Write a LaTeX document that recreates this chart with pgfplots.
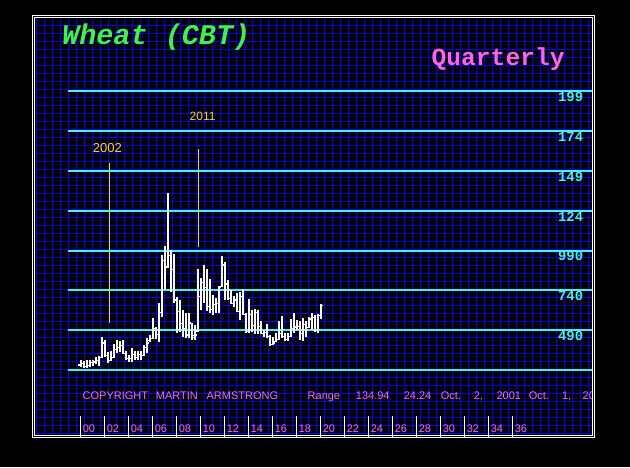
\documentclass[border=0pt]{standalone}
\usepackage{pgfplots}
\usepackage{pgfplotstable}
\pgfplotsset{compat=1.18}
\usepackage{fontspec}
\setmainfont{Liberation Sans}
\newfontfamily\monofont{Liberation Mono}
\definecolor{gridblue}{RGB}{0,0,225}
\definecolor{cyanline}{RGB}{72,240,240}
\definecolor{titlegreen}{RGB}{64,240,80}
\definecolor{pinktxt}{RGB}{240,110,230}
\definecolor{pinkq}{RGB}{255,100,230}
\definecolor{yel}{RGB}{250,220,0}

\pgfplotstableread{
i O H L C
0 272 300 258 280
1 280 295 255 262
2 262 300 252 270
3 270 302 262 285
4 285 305 268 290
5 290 322 278 300
6 300 328 266 318
7 318 445 318 410
8 410 430 324 330
9 330 352 286 300
10 300 360 298 320
11 320 403 315 370
12 370 428 345 380
13 380 425 350 395
14 395 428 340 345
15 345 360 303 310
16 310 334 292 310
17 310 376 292 335
18 335 362 300 320
19 320 360 305 335
20 335 360 305 330
21 330 397 325 380
22 380 439 345 410
23 425 460 418 440
24 440 565 433 500
25 500 512 437 465
26 465 659 418 600
27 600 963 575 930
28 930 1019 743 885
29 890 1352 880 960
30 960 994 732 870
31 870 969 659 680
32 680 700 470 610
33 610 680 480 530
34 530 617 449 500
35 500 596 438 460
36 460 600 440 540
37 530 533 428 445
38 455 525 428 460
39 485 873 481 700
40 700 817 617 790
41 790 901 659 760
42 760 873 612 640
43 640 810 596 620
44 620 712 586 650
45 650 691 596 660
46 660 768 596 760
47 765 957 760 900
48 900 921 680 780
49 780 806 680 690
50 690 743 659 660
51 660 705 638 680
52 680 726 607 610
53 610 733 554 700
54 700 747 586 590
55 590 596 474 480
56 480 687 474 590
57 590 617 481 520
58 520 625 466 600
59 600 620 466 515
60 515 547 466 470
61 470 491 445 475
62 475 529 438 450
63 450 460 397 400
64 400 445 395 410
65 420 470 415 430
66 430 547 428 470
67 470 582 449 450
68 450 470 420 430
69 430 470 420 450
70 450 561 445 500
71 500 596 472 510
72 510 554 491 515
73 515 547 428 470
74 470 565 424 525
75 525 545 450 495
76 505 571 501 560
77 560 596 491 570
78 570 586 481 490
79 490 592 472 580
80 580 655 558 645
}\wheat

\begin{document}
\begin{tikzpicture}
\begin{scope}[x=1pt,y=-1pt]
  \useasboundingbox (0,0) rectangle (630,467);
  \fill[black] (0,0) rectangle (630,467);
  % blue grid
  \foreach \k in {0,...,69} {
    \draw[gridblue, line width=1.3pt] (36.3+8*\k,17.5) -- (36.3+8*\k,435.5);
  }
  \foreach \k in {0,...,51} {
    \draw[gridblue, line width=1.3pt] (34.5,25.7+8*\k) -- (592.5,25.7+8*\k);
  }
  % cyan price lines
  \foreach \yy in {91.4,131.2,171.0,210.8,250.6,290.4,330.2,370.0} {
    \draw[cyanline, line width=2pt] (68,\yy) -- (593,\yy);
  }
  % cyan labels
  \foreach \yy/\lab in {91.4/199,131.2/174,171.0/149,210.8/124,250.6/990,290.4/740,330.2/490} {
    \node[anchor=base east, inner sep=0pt, text=cyanline, font=\monofont\bfseries\fontsize{13.9}{14}\selectfont] at (583.3,\yy+10.3) {\lab};
  }
  % yellow markers
  \draw[yel, line width=1pt] (109.3,163) -- (109.3,323);
  \draw[yel, line width=1pt] (198.3,149) -- (198.3,246.7);
  \node[anchor=base west, inner sep=0pt, text=yel, font=\fontsize{13}{14}\selectfont] at (92.7,152.3) {2002};
  \node[anchor=base west, inner sep=0pt, text=yel, font=\fontsize{12}{14}\selectfont] at (189.5,120) {2011};
  % titles
  \node[anchor=base west, inner sep=0pt, text=titlegreen, font=\monofont\bfseries\itshape\fontsize{28.5}{30}\selectfont] at (62,44) {Wheat (CBT)};
  \node[anchor=base west, inner sep=0pt, text=pinkq, font=\monofont\bfseries\fontsize{24.6}{26}\selectfont] at (431.5,65.7) {Quarterly};
  % copyright line
  \begin{scope}
    \clip (34.5,17.5) rectangle (592,435.5);
    \foreach \xx/\lab in {82.5/COPYRIGHT,155.7/MARTIN,206.4/ARMSTRONG,307.5/Range,355.7/134.94,403.6/24.24,440.7/Oct.,473.6/{2,},496.4/2001,528.6/Oct.,561.8/{1,},582.5/20} {
      \node[anchor=base west, inner sep=0pt, text=pinktxt, font=\fontsize{11}{12}\selectfont] at (\xx,399) {\lab};
    }
  \end{scope}
  % bottom ticks and labels
  \foreach \lab [count=\k from 0] in {00,02,04,06,08,10,12,14,16,18,20,22,24,26,28,30,32,34,36} {
    \draw[white, line width=1pt] (80.4+24*\k,415.7) -- (80.4+24*\k,436.5);
    \node[anchor=base west, inner sep=0pt, text=pinktxt, font=\fontsize{11}{12}\selectfont] at (82.6+24*\k,432.3) {\lab};
  }
  \draw[white, line width=1pt, dash pattern=on 1pt off 2pt] (60,435.5) -- (318,435.5);
  % border
  \draw[white, line width=1pt] (32.5,15.5) rectangle (594.5,437.5);
  \draw[white, line width=1pt] (34.5,17.5) rectangle (592.5,435.5);
\end{scope}

\begin{axis}[
  at={(0pt,0pt)}, anchor=north west,
  scale only axis, width=630pt, height=467pt,
  xmin=-26.9, xmax=183.1, ymin=-369.3, ymax=2564.1,
  hide axis, clip=false,
]
\addplot[white, only marks, mark=-, mark size=1.3pt,
  mark options={xshift=1.2pt, line width=1.2pt, white},
  error bars/.cd, y dir=both, y explicit, error mark=none,
  error bar style={white, line width=1.7pt}]
  table[x=i, y=C, y error plus expr=\thisrow{H}-\thisrow{C}, y error minus expr=\thisrow{C}-\thisrow{L}] {\wheat};
\addplot[white, only marks, mark=-, mark size=1.3pt,
  mark options={xshift=-1.2pt, line width=1.2pt, white}]
  table[x=i, y=O] {\wheat};
\end{axis}
\end{tikzpicture}
\end{document}
